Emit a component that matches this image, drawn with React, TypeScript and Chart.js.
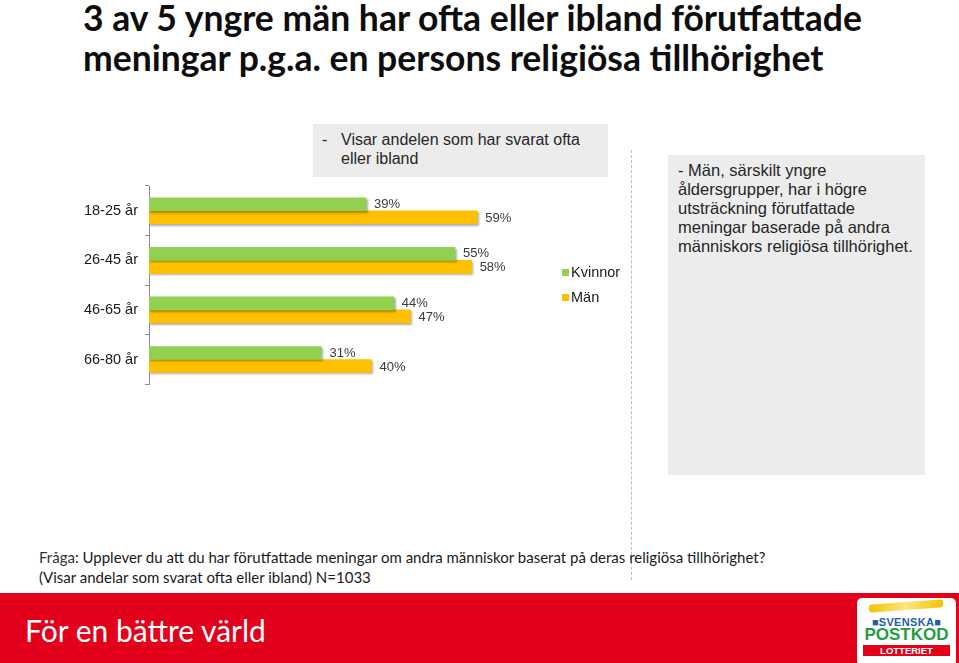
import React, { useEffect, useRef } from "react";
import { Chart, registerables } from "chart.js";

Chart.register(...registerables);

const categories = ["18-25 år", "26-45 år", "46-65 år", "66-80 år"];
const seriesNames = ["Kvinnor", "Män"];
const kvinnorValues = [39, 55, 44, 31];
const manValues = [59, 58, 47, 40];
const seriesColors = ["#92D050", "#FFC000"];
const xMax = 80;

const titleLines = [
  "3 av 5 yngre män har ofta eller ibland förutfattade",
  "meningar p.g.a. en persons religiösa tillhörighet",
];
const noteLines = ["Visar andelen som har svarat ofta", "eller ibland"];
const boxLines = [
  "- Män, särskilt yngre",
  "åldersgrupper, har i högre",
  "utsträckning förutfattade",
  "meningar baserade på andra",
  "människors religiösa tillhörighet.",
];
const questionLabel = "Fråga";
const questionText = ": Upplever du att du har förutfattade meningar om andra människor baserat på deras religiösa tillhörighet?";
const questionNote = "(Visar andelar som svarat ofta eller ibland) N=1033";
const footerText = "För en bättre värld";

const ARIAL = "'Liberation Sans', Arial, sans-serif";

const shadowPlugin = {
  id: "barShadow",
  beforeDatasetsDraw(chart: any) {
    const ctx = chart.ctx;
    ctx.save();
    ctx.shadowColor = "rgba(0,0,0,0.32)";
    ctx.shadowOffsetX = 1.5;
    ctx.shadowOffsetY = 1.5;
    ctx.shadowBlur = 2;
  },
  afterDatasetsDraw(chart: any) {
    chart.ctx.restore();
  },
};

const labelPlugin = {
  id: "valueLabels",
  afterDraw(chart: any) {
    const ctx = chart.ctx;
    ctx.save();
    ctx.font = `13px ${ARIAL}`;
    ctx.fillStyle = "#3a3a3a";
    ctx.textBaseline = "middle";
    ctx.textAlign = "left";
    chart.data.datasets.forEach((ds: any, di: number) => {
      const meta = chart.getDatasetMeta(di);
      meta.data.forEach((bar: any, i: number) => {
        ctx.fillText(ds.data[i] + "%", bar.x + 8, bar.y + (di === 1 ? 1 : 0));
      });
    });
    // legend
    ctx.font = `14.5px ${ARIAL}`;
    chart.data.datasets.forEach((ds: any, di: number) => {
      const y = 103 + di * 25;
      ctx.fillStyle = ds.backgroundColor;
      ctx.fillRect(562, y - 4, 7, 7);
      ctx.fillStyle = "#1a1a1a";
      ctx.fillText(ds.label, 571, y);
    });
    ctx.restore();
  },
};

function BarChart() {
  const ref = useRef<HTMLCanvasElement>(null);
  useEffect(() => {
    if (!ref.current) return;
    const chart = new Chart(ref.current, {
      type: "bar",
      data: {
        labels: categories,
        datasets: [
          { label: seriesNames[0], data: kvinnorValues, backgroundColor: seriesColors[0], barThickness: 13 },
          { label: seriesNames[1], data: manValues, backgroundColor: seriesColors[1], barThickness: 13 },
        ],
      },
      options: {
        indexAxis: "y",
        responsive: false,
        animation: false,
        layout: { padding: { top: 16, bottom: 13, left: 0, right: 26 } },
        scales: {
          x: { display: false, min: 0, max: xMax },
          y: {
            afterFit(axis: any) {
              axis.width = 149;
            },
            grid: { drawOnChartArea: false, tickLength: 4, color: "#8c8c8c", offset: true },
            border: { display: true, color: "#8c8c8c" },
            ticks: { font: { family: ARIAL, size: 14.5 }, color: "#1a1a1a", padding: 7 },
          },
        },
        plugins: { legend: { display: false }, tooltip: { enabled: false } },
      } as any,
      plugins: [shadowPlugin, labelPlugin],
    });
    return () => chart.destroy();
  }, []);
  return (
    <canvas
      ref={ref}
      width={620}
      height={230}
      style={{ position: "absolute", left: 0, top: 170, width: 620, height: 230 }}
    />
  );
}

export default function App() {
  return (
    <div
      style={{
        position: "absolute",
        left: 0,
        top: 0,
        width: 959,
        height: 663,
        background: "#fff",
        overflow: "hidden",
        fontFamily: ARIAL,
      }}
    >
      <div
        style={{
          position: "absolute",
          left: 83,
          top: -2,
          fontFamily: "Lato, sans-serif",
          fontWeight: 700,
          fontSize: 35.5,
          lineHeight: "40px",
          color: "#0d0d0d",
          whiteSpace: "nowrap",
        }}
      >
        {titleLines.map((t, i) => (
          <div key={i}>{t}</div>
        ))}
      </div>

      <div
        style={{
          position: "absolute",
          left: 631,
          top: 150,
          height: 430,
          borderLeft: "1px dashed #bdbdbd",
        }}
      />

      <div
        style={{
          position: "absolute",
          left: 313,
          top: 124,
          width: 295,
          height: 53,
          background: "#ececec",
          fontSize: 16,
          lineHeight: "19px",
          color: "#262626",
        }}
      >
        <div style={{ position: "absolute", left: 9, top: 6 }}>-</div>
        <div style={{ position: "absolute", left: 28, top: 6, whiteSpace: "nowrap" }}>
          {noteLines.map((t, i) => (
            <div key={i}>{t}</div>
          ))}
        </div>
      </div>

      <div
        style={{
          position: "absolute",
          left: 668,
          top: 155,
          width: 257,
          height: 320,
          background: "#ececec",
          fontSize: 16.5,
          lineHeight: "19px",
          color: "#262626",
          boxSizing: "border-box",
          padding: "6px 0 0 10px",
          whiteSpace: "nowrap",
        }}
      >
        {boxLines.map((t, i) => (
          <div key={i}>{t}</div>
        ))}
      </div>

      <BarChart />

      <div
        style={{
          position: "absolute",
          left: 39,
          top: 547,
          fontFamily: "Lato, sans-serif",
          fontSize: 15,
          lineHeight: "20px",
          color: "#1a1a1a",
          whiteSpace: "nowrap",
        }}
      >
        <div>
          <span style={{ color: "#333" }}>{questionLabel}</span>
          {questionText}
        </div>
        <div>{questionNote}</div>
      </div>

      <div
        style={{
          position: "absolute",
          left: 0,
          top: 593,
          width: 959,
          height: 70,
          background: "#E2001A",
        }}
      >
        <div
          style={{
            position: "absolute",
            left: 25,
            top: 19,
            fontFamily: "Lato, sans-serif",
            fontWeight: 400,
            fontSize: 30,
            lineHeight: "36px",
            color: "#fff",
            whiteSpace: "nowrap",
          }}
        >
          {footerText}
        </div>
        <div
          style={{
            position: "absolute",
            left: 857,
            top: 5,
            width: 99,
            height: 68,
            background: "#fff",
            borderRadius: 5,
          }}
        >
          <div
            style={{
              position: "absolute",
              left: 12,
              top: 4,
              width: 74,
              height: 8,
              background: "linear-gradient(90deg,#f2c200,#ffe680,#f2c200)",
              borderRadius: "3px",
              transform: "skewY(-4deg)",
            }}
          />
          <div
            style={{
              position: "absolute",
              left: 0,
              top: 18,
              width: 99,
              textAlign: "center",
              fontFamily: "'Liberation Sans Narrow', 'Liberation Sans', sans-serif",
              fontWeight: 700,
              fontSize: 11,
              lineHeight: "12px",
              color: "#1F5FA8",
              letterSpacing: 0.3,
            }}
          >
            ■SVENSKA■
          </div>
          <div
            style={{
              position: "absolute",
              left: 0,
              top: 28,
              width: 99,
              textAlign: "center",
              fontFamily: "'Liberation Sans Narrow', 'Liberation Sans', sans-serif",
              fontWeight: 700,
              fontSize: 17,
              lineHeight: "18px",
              color: "#1E9E3E",
            }}
          >
            POSTKOD
          </div>
          <div
            style={{
              position: "absolute",
              left: 6,
              top: 47,
              width: 87,
              height: 11,
              background: "#E2001A",
              textAlign: "center",
              fontFamily: "'Liberation Sans Narrow', 'Liberation Sans', sans-serif",
              fontWeight: 700,
              fontSize: 9.5,
              lineHeight: "11px",
              color: "#fff",
            }}
          >
            LOTTERIET
          </div>
        </div>
      </div>
    </div>
  );
}
